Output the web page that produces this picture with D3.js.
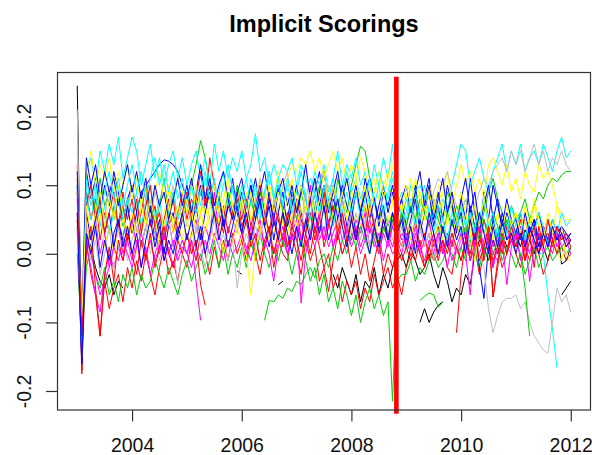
<!DOCTYPE html>
<html><head><meta charset="utf-8">
<script src="https://cdn.jsdelivr.net/npm/d3@7"></script>
<style>body{margin:0;background:#fff}svg{display:block}</style>
</head><body><svg id="c" width="592" height="455"></svg>
<script>
const _ = null;
const N = k => Array(k).fill(null);
const title = "Implicit Scorings";
const startYear = 2003;            // monthly observations, Jan 2003 .. Jan 2012
const xTicks = [2004, 2006, 2008, 2010, 2012];
const yTicks = [-0.2, -0.1, 0, 0.1, 0.2];
const yTickLabels = ["-0.2", "-0.1", "0.0", "0.1", "0.2"];
const breakYear = 2008.82;
const breakSpan = [-0.233, 0.258];

const blk1 = [
.245,-.155,.03,.01,-.02,-.04,-.05,-.03,-.06,-.04,-.05,
...N(45),
-.03,-.05,-.02,-.04,
-.06,-.03,-.07,-.04,-.05,-.02,-.06,-.03,-.05,-.02,-.01,.0,
-.02,.01,-.01,-.03,-.02,.0,-.03,-.05,-.02,-.04,-.07,-.05,
-.06,-.03,-.045,.0,.02,.01,-.01,.02,.0,.03,.01,.02,
.03,.01,.035,.02,.0,.03,.01,-.01,.02,.035,-.015,-.01,
.01];
const red1 = [
.13,-.17,.09,.05,.08,.02,.06,.03,.07,.04,.09,.05,
.08,.03,.06,.1,.04,.07,.02,.05,.08,.03,.06,.09,
.05,.08,.06,.09,.07,.14,.1,.06,.03,.07,.05,.08,
.04,.06,.02,.07,.03,.05,.09,.04,.06,.01,.05,.03,
.07,.02,.05,.08,.03,.06,.01,.04,.07,.02,.05,.03,
.06,.02,.04,.07,.03,.05,.0,.04,.02,.06,.03,.01,
.04,.02,.05,.01,.03,-.01,.02,.04,.0,.03,.01,.05,
.02,.04,-.01,.03,.01,.05,.02,-.02,.03,.0,.04,.02,
.01,.03,-.01,.04,.02,.0,.03,.01,.04,.02,.03,.01,
.02];
const grn1 = [
.05,-.12,.08,.1,.06,.11,.07,.09,.05,.08,.04,.07,
.1,.06,.09,.05,.08,.04,.07,.11,.06,.09,.05,.08,
.06,.1,.13,.165,.14,.1,.07,.08,.05,.09,.06,.1,
.07,.04,.08,.05,.09,.06,.03,.07,.1,.06,.04,.08,
.05,.09,.06,.03,.07,.1,.06,.08,.05,.11,.08,.06,
.1,.13,.157,.15,.11,.08,.05,.07,.04,.06,.02,.05,
.08,.06,.09,.05,.07,.04,.08,.06,.05,.09,.07,.04,
.06,.08,.05,.07,.03,.06,.09,.11,.08,.06,.04,.07,
.05,.06,.08,.05,.07,.09,.08,.1,.11,.105,.115,.12,
.12];
const blu1 = [
.1,-.15,.12,.08,.11,.06,.1,.07,.12,.09,.05,.08,
.1,.06,.09,.1,.11,.12,.13,.137,.135,.13,.12,.1,
.08,.11,.07,.1,.06,.09,.05,.08,.04,.07,.1,.06,
.09,.05,.08,.11,.07,.04,.08,.06,.1,.07,.05,.09,
.06,.1,.08,.05,.09,.12,.07,.04,.08,.06,.1,.07,
.05,.09,.06,.11,.08,.04,.07,.1,.06,.09,.05,.08,
.04,.07,.1,.05,.08,.11,.06,.09,.05,.1,.07,.03,
.08,.05,.11,.06,.02,.09,.05,.1,.07,.04,.08,.05,
.03,.06,.02,.05,.04,.06,.03,.05,.02,.04,.03,.02,
.03];
const cyn1 = [
.07,-.14,.12,.14,.1,.15,.12,.16,.13,.17,.11,.14,
.17,.15,.1,.13,.16,.11,.14,.1,.13,.15,.11,.14,
.1,.13,.15,.11,.14,.1,.16,.12,.15,.11,.14,.12,
.15,.11,.13,.175,.12,.14,.1,.13,.11,.13,.12,.14,
.1,.13,.11,.09,.12,.1,.13,.09,.11,.15,.1,.13,
.11,.14,.1,.12,.09,.13,.1,.14,.11,.16,.09,.05,
.06,.1,.09,.1,.08,.06,.07,.05,.08,.06,.1,.13,
.16,.15,.1,.12,.14,.11,.09,.12,.14,.16,.12,.15,
.13,.16,.12,.14,.15,.13,.16,.14,.12,.15,.17,.14,
.15];
const mag1 = [
.06,-.1,.04,.02,.05,.0,.03,-.02,.01,.04,.0,.03,
.05,.01,.03,.06,.02,.04,.0,.03,.05,.01,.04,.02,
.0,.03,.05,.01,.04,.02,.09,.03,.0,.04,.02,.05,
.03,.0,.04,.02,.05,.01,.03,.06,.02,.04,.0,.03,
.05,.02,.04,.1,.03,.06,.02,.05,.01,.04,.06,.03,
.02,.05,.03,.06,.01,.04,.02,.05,.03,.01,.04,.02,
.03,.0,.02,.04,.01,.03,-.01,.02,.04,.01,.03,.0,
.02,.04,.01,.03,.0,.02,.04,.01,.03,.05,.02,.04,
.01,.03,.05,.02,.04,.01,.03,.05,.02,.04,.03,.02,
.03];
const yel1 = [
.09,-.08,.12,.15,.1,.13,.11,.14,.09,.12,.1,.13,
.08,.11,.07,.1,.06,.09,.12,.08,.1,.07,.11,.09,
.06,.1,.08,.05,.09,.07,.1,.06,.08,.11,.07,.09,
.06,.09,.05,.08,.11,.07,.1,.08,.12,.09,.11,.13,
.12,.14,.13,.15,.12,.14,.11,.13,.15,.12,.14,.1,
.13,.11,.14,.12,.09,.11,.08,.1,.12,.07,.09,.06,
.08,.11,.07,.09,.06,.1,.08,.05,.09,.12,.07,.1,
.13,.1,.12,.09,.11,.08,.13,.14,.12,.1,.13,.09,
.11,.08,.12,.1,.09,.13,.11,.12,.1,.07,.06,.05,
.05];
const gry1 = [
.21,-.14,.06,.09,.04,.08,.05,.1,.07,.03,.08,.06,
.1,.07,.04,.08,.05,.09,.06,.03,.07,.1,.05,.08,
.04,.07,.03,.06,.09,.05,.02,.06,.04,.08,.05,.03,
.07,.04,.09,.06,.11,.08,.12,.09,.06,.1,.12,.05,
.08,.04,.07,.05,.09,.06,.03,.07,.04,.08,.05,.02,
.06,.03,.07,.04,.08,.05,.02,.06,.03,.05,.01,.04,
.0,.04,.07,.05,.08,.06,.09,.11,.1,.12,.09,.07,
.06,.08,.05,.07,.09,.11,.1,.12,.13,.14,.12,.15,
.13,.15,.12,.14,.16,.13,.15,.12,.14,.13,.15,.13,
.12];
const blk2 = [...N(35), -.025,-.03, ...N(7), -.045,-.04, ...N(29),
-.1,-.08,-.1,-.085,-.075,-.07, ...N(25), -.06,-.05,-.04];
const red2 = [
.08,-.175,.02,-.03,-.06,-.12,-.04,-.08,-.05,-.03,-.07,-.02,
-.05,-.01,-.04,.0,-.03,-.06,-.02,.01,-.03,-.01,-.04,.0,
-.02,.02,-.01,.03,.0,-.03,.01,-.02,.02,-.01,.03,.0,
.02,-.01,.03,.0,-.03,.01,.04,-.02,.02,.0,-.01,.03,
.0,-.03,.02,-.01,.01,-.04,-.02,.0,-.05,-.03,-.07,-.04,
-.06,-.04,-.08,-.05,-.07,-.03,-.06,-.04,-.02,-.05,-.03,-.06,
-.02,.0,-.01,.02,-.02,.01,-.01,.0,.02,-.02,-.03,.01,
-.01,.02,-.01,.01,-.03,.0,.02,-.01,.01,-.02,.0,.02,
.0,-.02,.01,-.01,.02,.0,-.03,-.01,.02,.0,.01,-.01,
.0];
const grn2 = [
.0,-.13,-.02,.01,-.03,-.05,-.02,-.06,-.04,-.07,-.03,-.05,
-.02,-.06,-.03,-.05,-.04,-.01,-.03,-.05,-.02,-.04,-.06,-.03,
-.01,-.04,-.02,.0,-.03,-.01,.02,-.02,.01,-.03,.0,-.02,
.01,-.02,.02,-.01,.03,.0,-.02,.01,-.01,.02,.0,-.03,
.0,.02,-.01,-.04,-.02,-.06,-.03,-.07,-.05,-.08,-.04,-.06,
-.09,-.06,-.1,-.07,-.05,-.08,-.06,-.09,-.07,-.215,-.04,-.03,
-.03,-.01,-.04,-.02,-.03,-.01,.0,-.02,-.01,.01,.0,-.02,
.01,-.01,.02,.0,-.02,.01,-.01,.0,.02,-.01,.01,.0,
-.02,.0,-.03,-.01,.01,-.02,.0,.01,-.01,.0,.01,.0,
.01];
const blu2 = [
.04,-.16,.06,.02,.05,.08,.03,.06,.01,.05,.02,.07,
.03,.06,.01,.04,.07,.02,.05,.0,.04,.06,.02,.05,
.08,.04,.07,.02,.06,.1,.05,.09,.04,.07,.11,.06,
.03,.07,.1,.05,.08,.04,.07,.02,.06,.09,.04,.07,
.1,.06,.03,.08,.05,.09,.12,.07,.1,.05,.08,.04,
.07,.03,.06,.09,.05,.08,.04,.07,.02,.05,.03,.06,
.02,.05,.08,.03,.06,.09,.04,.07,.03,.06,.08,.04,
.06,.02,.07,.04,-.02,-.065,.01,.05,.02,.06,.03,.05,
.02,.04,.01,.03,.05,.02,.04,.01,.03,.02,.04,.03,
.02];
const cyn2 = [
.1,-.12,.08,.05,.09,.04,.07,.03,.06,.1,.05,.08,
.06,.09,.04,.07,.1,.05,.08,.03,.06,.09,.05,.07,
.09,.06,.1,.07,.11,.08,.05,.09,.12,.07,.1,.06,
.08,.11,.07,.1,.06,.09,.12,.08,.1,.07,.11,.09,
.07,.1,.08,.11,.09,.06,.1,.08,.11,.07,.09,.12,
.09,.11,.08,.1,.07,.09,.12,.1,.08,.11,.07,.09,
.08,.06,.09,.05,.07,.04,.06,.03,.05,.07,.04,.06,
.03,.05,.02,.04,.06,.03,.05,.02,.04,.01,.03,.05,
.02,.04,.01,.03,.02,.0,.0,-.06,-.11,-.167, ...N(3)];
const mag2 = [
.03,-.13,.01,-.02,-.06,-.085,-.03,.0,-.02,.01,-.01,.02,
-.01,.02,-.02,.01,-.03,.0,.02,-.01,.01,-.02,.0,.02,
.0,-.02,.01,-.01,.02,.0,.03,.01,-.01,.02,.0,.01,
.03,.01,-.01,.02,.04,.01,.03,.0,.02,.04,.01,.03,
.02,.05,.01,.03,.06,.02,.04,.01,.03,.05,.02,.04,
.01,.03,.0,.02,.04,.01,.03,-.01,.02,.0,.01,.03,
.02,.0,.03,.01,-.01,.02,.0,.03,.01,-.02,.02,.0,
.01,.03,-.01,.02,.04,.0,.02,-.02,.01,.03,.0,.02,
.01,.04,.02,.0,.03,.01,.04,.02,.0,.03,.01,.02,
.02];
const yel2 = [
.02,-.1,.05,.0,.03,.06,.01,.04,.0,.03,.05,.02,
.04,.0,.03,.06,.02,.05,.01,.04,.07,.03,.05,.02,
.05,.02,.06,.03,.07,.04,.02,.05,.0,.03,.02,.04,
.01,.0,-.06,.01,.03,.06,.02,.04,.01,.05,.03,.06,
.04,.07,.03,.06,.02,.05,.08,.04,.06,.03,.07,.05,
.03,.06,.04,.07,.05,.02,.06,.03,.05,.08,.04,.06,
.05,.02,.06,.03,.07,.04,.01,.05,.02,.06,.03,.05,
.02,.06,.03,-.01,.04,.01,.05,.02,.06,.03,.0,.04,
.06,.03,.05,.02,.07,.04,.01,.05,.03,.0,-.01,.02,
.01];
const gry2 = [
.15,-.13,.03,-.01,.02,-.03,.0,.04,-.02,.01,.03,-.01,
.02,.05,.01,.04,.0,.03,-.01,.02,.05,.01,-.045,.0,
.03,.0,.04,.01,-.02,.02,.05,.01,.03,-.01,.02,-.05,
.0,.03,.01,.04,.02,.06,.03,.08,.05,.02,.06,.03,
.07,.04,.09,.05,.11,.08,.06,.1,.07,.04,.08,.05,
.03,.06,.02,.05,.01,.04,.0,.03,.05,.02,.04,.01,
.03,.0,.02,.04,.01,.03,-.01,.02,.04,.01,.03,.0,
.02,.04,.01,.03,.0,-.02,-.08,-.115,-.09,-.07,-.065,-.065,
-.06,-.08,-.07,-.1,-.12,-.13,-.14,-.145,-.1,-.05,-.07,-.06,
-.085];
const red3 = [
.11,-.14,.07,.1,.05,.08,.03,.06,.09,.04,.07,.02,
.05,.08,.03,.07,.1,.04,.06,.02,.05,.08,.03,.06,
.09,.05,.08,.12,.07,.1,.06,.04,.07,.03,.06,.09,
.05,.08,.04,.07,.1,.06,.03,.07,.05,.02,.06,.04,
.08,.05,.03,.06,.02,.05,.09,.04,.07,.03,.06,.02,
.05,.02,.06,.03,.07,.04,.01,.05,.02,.04,.06,
...N(12),
-.115,
-.03,.02,.05,.01,.04,-.01,.03,-.063,-.02,.03,.0,.04,
.02,.05,.01,.03,-.02,.04,.01,.05,.02,.0,.03,.01,
.02];
const grn3 = [
...N(41),
-.097,-.068,-.07,-.06,-.065,-.05,-.055,
-.04,-.045,-.03,-.02,-.035,-.01,.0,-.02,.01,-.01,.02,.0,
.03,.01,.04,.02,.0,.03,.01,.04,.02,.05,.03,.06,
.04,.07,.05,.08,.06,.04,.07,.05,.03,.06,.04,.07,
.05,.03,.06,.04,.02,.05,.03,.06,.04,.02,.05,.03,
.02,.0,-.05,-.12,
...N(9)];
const blu3 = [
.12,-.1,.14,.1,.13,.08,.12,.09,.11,.07,.1,.13,
.09,.12,.08,.11,.06,.1,.07,.09,.05,.08,.11,.07,
.1,.06,.09,.13,.08,.11,.07,.1,.12,.08,.05,.09,
.11,.07,.1,.06,.09,.12,.08,.05,.09,.11,.07,.1,
.06,.09,.13,.08,.11,.07,.1,.06,.09,.12,.08,.11,
.07,.1,.06,.09,.11,.08,.05,.09,.07,.1,.06,.08,
.1,.06,.09,.12,.07,.1,.05,.08,.11,.06,.09,.05,
.08,.11,.06,.09,.04,.07,.1,.05,.08,.03,.06,.04,
.05,.02,.06,.03,.05,.01,.04,.02,.05,.03,.04,.02,
.03];
const cyn3 = [
.09,-.15,.11,.07,.1,.06,.09,.12,.08,.11,.07,.1,
.13,.09,.12,.08,.11,.14,.1,.13,.09,.12,.08,.11,
.07,.1,.06,.09,.12,.08,.11,.07,.1,.13,.09,.06,
.1,.07,.11,.08,.05,.09,.12,.08,.11,.07,.1,.06,
.09,.12,.08,.05,.09,.06,.1,.07,.04,.08,.06,.09,
.06,.09,.05,.08,.11,.07,.1,.06,.09,.12,.08,.06,
.05,.08,.04,.07,.1,.06,.03,.07,.05,.02,.06,.04,
.07,.04,.06,.03,.05,.08,.04,.06,.02,.05,.03,.07,
.04,.06,.02,.05,.03,.06,.04,.01,.05,.03,.06,.04,
.05];
const mag3 = [
.05,-.11,.02,.0,-.03,-.06,-.04,-.02,.01,-.01,.02,.0,
-.02,.01,.03,.0,.02,-.01,.01,.03,.0,.02,-.01,.01,
.0,.02,-.04,-.097,
...N(13),
.02,.0,-.04,.01,.03,.0,.02,
.04,-.072,.0,.03,.01,.04,.02,.05,.01,.03,.0,.02,
.02,.04,.01,.03,.05,.02,.0,.03,.01,.04,.02,.0,
.03,.01,.04,.0,.02,.05,.01,.03,.0,.02,-.01,.01,
.03,.0,-.06,.02,.04,.01,.03,.0,-.01,.02,-.045,.01,
.03,-.01,.02,-.04,.01,.03,.0,.02,.04,.01,.03,.02,
.0];
const yel3 = [
.04,-.09,.07,.03,.06,.09,.04,.08,.05,.1,.06,.03,
.06,.03,.07,.04,.08,.05,.02,.06,.09,.04,.07,.05,
.08,.04,.1,.06,.03,.07,.05,.09,.06,.1,.07,.04,
.08,.05,.09,.06,.03,.07,.1,.06,.09,.05,.08,.11,
.07,.1,.06,.09,.05,.08,.12,.07,.1,.06,.09,.05,
.08,.11,.07,.1,.06,.09,.12,.08,.11,.13,.09,.06,
.1,.07,.11,.08,.05,.09,.06,.1,.07,.04,.08,.05,
.09,.06,.03,.07,.04,.08,.05,.02,.06,.03,.07,.04,
.06,.03,.07,.04,.08,.05,.02,.06,.03,.07,.04,.0,
-.01];
const red4 = [
.09,-.12,.0,.04,-.05,-.12,-.03,.01,-.04,.02,-.01,.03,
.0,-.03,.02,-.01,.03,-.02,.01,.04,.0,-.02,.02,.0,
.03,.0,.02,-.045,-.075,
...N(7),
.02,.05,.01,.03,-.01,.02,.04,.0,.03,.06,.01,.04,
.02,-.01,.03,.0,.04,.01,-.02,-.055,-.01,.03,.0,.02,
-.02,.01,-.03,.0,-.04,-.01,.02,-.03,.0,-.02,.01,-.01,
.01,-.01,.02,.0,-.02,.01,.03,-.01,.02,.0,.03,.01,
-.01,.02,.0,.03,-.01,.01,.04,-.063,-.01,.02,.0,.03,
.01,.03,-.01,.02,.04,.0,.02,.03,.01,.04,.02,.03,
.01];
const blu4 = [
.06,-.16,.03,.0,.04,-.02,.02,-.01,.03,.05,.01,.04,
.0,.03,-.02,.02,.05,.01,.04,-.01,.02,.0,.03,.06,
.02,.05,.01,.04,.0,.03,.06,.02,.05,.01,.04,.07,
.03,.06,.02,.05,.08,.04,.01,.05,.02,.06,.03,.0,
.04,.01,.05,.02,.06,.03,.07,.02,.05,.08,.04,.01,
.05,.02,.06,.03,.0,.04,.01,.05,.02,.06,.03,.05,
.01,.04,.0,.05,.02,.06,.03,.0,.04,.01,.05,.02,
.04,.0,.05,.02,.06,.03,.0,.04,.01,.05,.02,.03,
.0,.03,.01,.04,.02,.0,.03,.01,.04,.02,.03,.01,
.02];
const grn4 = [...N(75), -.068,-.062,-.057,-.06,-.078,-.07, ...N(28)];

const colors = {black:"#000000", red:"#FF0000", green:"#00CD00", blue:"#0000FF",
  cyan:"#00FFFF", magenta:"#FF00FF", yellow:"#FFFF00", gray:"#BEBEBE"};
const series = [
  [blk1,"black"],[red1,"red"],[grn1,"green"],[blu1,"blue"],[cyn1,"cyan"],[mag1,"magenta"],[yel1,"yellow"],[gry1,"gray"],
  [blk2,"black"],[red2,"red"],[grn2,"green"],[blu2,"blue"],[cyn2,"cyan"],[mag2,"magenta"],[yel2,"yellow"],[gry2,"gray"],
  [red3,"red"],[grn3,"green"],[blu3,"blue"],[cyn3,"cyan"],[mag3,"magenta"],[yel3,"yellow"],[red4,"red"],[blu4,"blue"],[grn4,"green"]
];

const svg = d3.select("#c");
const font = "'Liberation Sans', Arial, Helvetica, sans-serif";
const x = d3.scaleLinear().domain([2002.64, 2012.36]).range([57.5, 590.5]);
const y = d3.scaleLinear().domain([-0.2277, 0.265]).range([410, 72]);

svg.append("defs").append("clipPath").attr("id","pc")
  .append("rect").attr("x",57.5).attr("y",72.5).attr("width",533).attr("height",337.5);

const line = d3.line()
  .defined(d => d.v !== null)
  .x(d => x(d.t)).y(d => y(d.v));

const g = svg.append("g").attr("clip-path","url(#pc)");
series.forEach(([vals, c]) => {
  const pts = vals.map((v, i) => ({t: startYear + i / 12, v}));
  g.append("path").datum(pts).attr("d", line)
    .attr("fill","none").attr("stroke", colors[c]).attr("stroke-width", 1);
});

// break line
svg.append("line")
  .attr("x1", x(breakYear)).attr("x2", x(breakYear))
  .attr("y1", y(breakSpan[1])).attr("y2", y(breakSpan[0]))
  .attr("stroke","#FF0000").attr("stroke-width", 4.6);

// box
svg.append("rect").attr("x",57.5).attr("y",72.5).attr("width",533).attr("height",337.5)
  .attr("fill","none").attr("stroke","#333").attr("stroke-width",1.2);

// x axis
const gx = svg.append("g").attr("transform","translate(0,410)")
  .call(d3.axisBottom(x).tickValues(xTicks).tickFormat(d3.format("d")).tickSize(11.5));
gx.select(".domain").remove();
gx.selectAll(".tick line").attr("stroke","#333").attr("stroke-width",1.2);
gx.selectAll(".tick text").attr("y",42).attr("dy",0)
  .attr("font-family",font).attr("font-size",19.5).attr("fill","#111");

// y axis
const gy = svg.append("g").attr("transform","translate(57.5,0)")
  .call(d3.axisLeft(y).tickValues(yTicks).tickFormat((d,i) => yTickLabels[i]).tickSize(11.5));
gy.select(".domain").remove();
gy.selectAll(".tick line").attr("stroke","#333").attr("stroke-width",1.2);
gy.selectAll(".tick text").attr("transform","rotate(-90)")
  .attr("x",0).attr("y",-27).attr("dy",0).attr("text-anchor","middle")
  .attr("font-family",font).attr("font-size",19.5).attr("fill","#111");

// title
svg.append("text").attr("x",324).attr("y",32).attr("text-anchor","middle")
  .attr("font-family",font).attr("font-weight","bold").attr("font-size",23.5)
  .attr("fill","#000").text(title);
</script>
</body></html>
